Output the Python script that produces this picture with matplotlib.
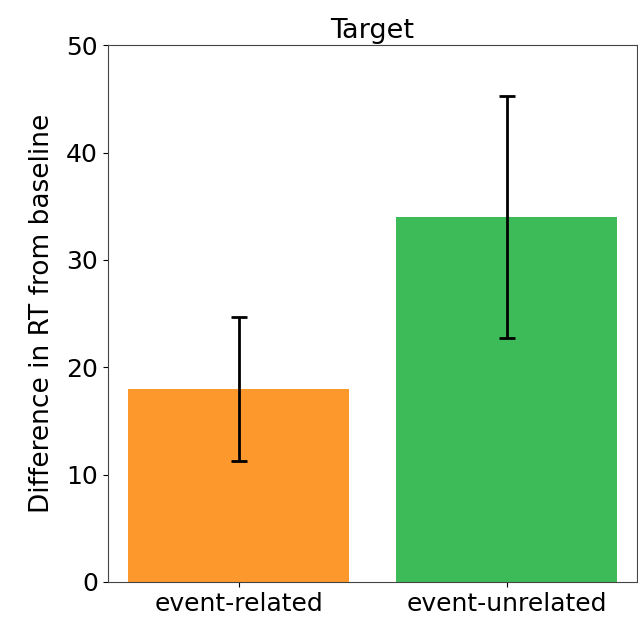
import matplotlib
matplotlib.use("Agg")
import matplotlib.pyplot as plt

conditions = ["event-related", "event-unrelated"]
rt_diff = [18.0, 34.0]
rt_err = [6.7, 11.3]
bar_colors = ["#fd992c", "#3dbb58"]

fig = plt.figure(figsize=(6.38, 6.19), dpi=100)
ax = fig.add_axes([0.169, 0.06, 0.829, 0.867])

x = range(len(conditions))
ax.bar(x, rt_diff, width=0.825, color=bar_colors)
ax.errorbar(x, rt_diff, yerr=rt_err, fmt="none", ecolor="black",
            elinewidth=2.0, capsize=6, capthick=2.0)

ax.set_xticks(list(x))
ax.set_xticklabels(conditions)
ax.set_xlim(-0.489, 1.485)
ax.set_ylim(0, 50)
ax.set_yticks([0, 10, 20, 30, 40, 50])
ax.tick_params(labelsize=18)
ax.set_ylabel("Difference in RT from baseline", fontsize=19, labelpad=8)
ax.set_title("Target", fontsize=19.5, pad=5)
for s in ax.spines.values():
    s.set_color("#444444")

fig.savefig("out.png", dpi=100)
